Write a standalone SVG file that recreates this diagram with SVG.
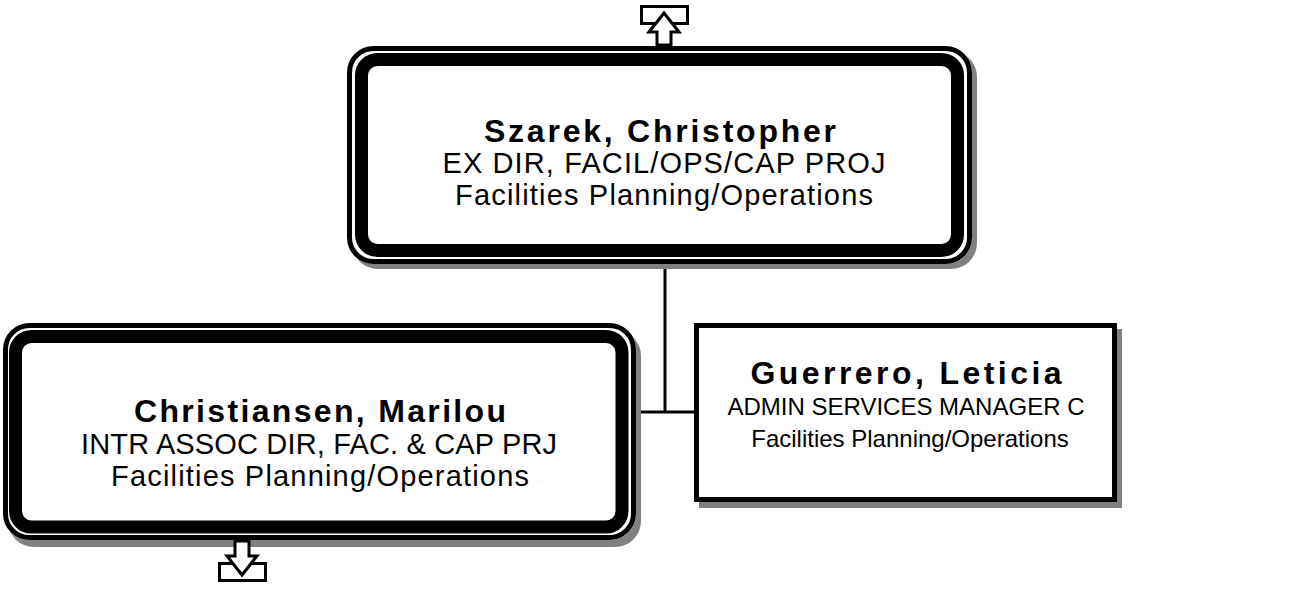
<svg xmlns="http://www.w3.org/2000/svg" width="1289" height="589" viewBox="0 0 1289 589">
<style>
.bg{fill:#fff}
.ring{fill:none;stroke:#000;stroke-width:5}
.band{fill:none;stroke:#000;stroke-width:13}
.shadow{fill:#808080}
.box{fill:#fff;stroke:#000;stroke-width:5}
.name{font-family:"Liberation Sans",Arial,sans-serif;font-weight:bold;font-size:32px;text-anchor:middle;fill:#000}
.line{font-family:"Liberation Sans",Arial,sans-serif;font-size:29px;text-anchor:middle;fill:#000}
.small{font-family:"Liberation Sans",Arial,sans-serif;font-size:24px;text-anchor:middle;fill:#000}
.conn{fill:none;stroke:#000;stroke-width:3}
.arrow{fill:#fff;stroke:#000;stroke-width:3;stroke-linejoin:miter}
</style>
<rect class="bg" x="0" y="0" width="1289" height="589"/>
<g id="connectors">
<line class="conn" x1="665" y1="264" x2="665" y2="413"/>
<line class="conn" x1="636" y1="412" x2="696" y2="412"/>
</g>
<g id="node-szarek">
<rect class="shadow" x="352" y="51" width="625" height="218" rx="26"/>
<rect x="347" y="46" width="625" height="218" rx="26" fill="#fff"/>
<rect class="ring" x="349.5" y="48.5" width="620" height="213" rx="24"/>
<rect class="band" x="361.5" y="59.5" width="596" height="191" rx="16"/>
<text class="name" x="660" y="142" textLength="352" lengthAdjust="spacing">Szarek, Christopher</text>
<text class="line" x="664" y="173" textLength="443" lengthAdjust="spacing">EX DIR, FACIL/OPS/CAP PROJ</text>
<text class="line" x="664" y="205" textLength="418" lengthAdjust="spacing">Facilities Planning/Operations</text>
<rect class="arrow" x="641.5" y="6.5" width="46" height="17"/>
<polygon class="arrow" points="664,13 679,32 671,32 671,45 657,45 657,32 649,32"/>
</g>
<g id="node-christiansen">
<rect class="shadow" x="8" y="330" width="633" height="217" rx="26"/>
<rect x="3" y="323" width="633" height="217" rx="26" fill="#fff"/>
<rect class="ring" x="5.5" y="325.5" width="628" height="212" rx="24"/>
<rect class="band" x="15.5" y="336.5" width="606.5" height="190.5" rx="16"/>
<text class="name" x="320" y="422" textLength="372" lengthAdjust="spacing">Christiansen, Marilou</text>
<text class="line" x="319" y="454" textLength="476" lengthAdjust="spacing">INTR ASSOC DIR, FAC. &amp; CAP PRJ</text>
<text class="line" x="320" y="486" textLength="418" lengthAdjust="spacing">Facilities Planning/Operations</text>
<rect class="arrow" x="219.5" y="563.5" width="46" height="17"/>
<polygon class="arrow" points="242,575 257,556 249,556 249,541 235,541 235,556 227,556"/>
</g>
<g id="node-guerrero">
<rect class="shadow" x="699" y="329" width="423" height="179"/>
<rect class="box" x="696.5" y="325.5" width="418" height="174"/>
<text class="name" x="906" y="384" textLength="311" lengthAdjust="spacing">Guerrero, Leticia</text>
<text class="small" x="906" y="415">ADMIN SERVICES MANAGER C</text>
<text class="small" x="910" y="447">Facilities Planning/Operations</text>
</g>
</svg>
